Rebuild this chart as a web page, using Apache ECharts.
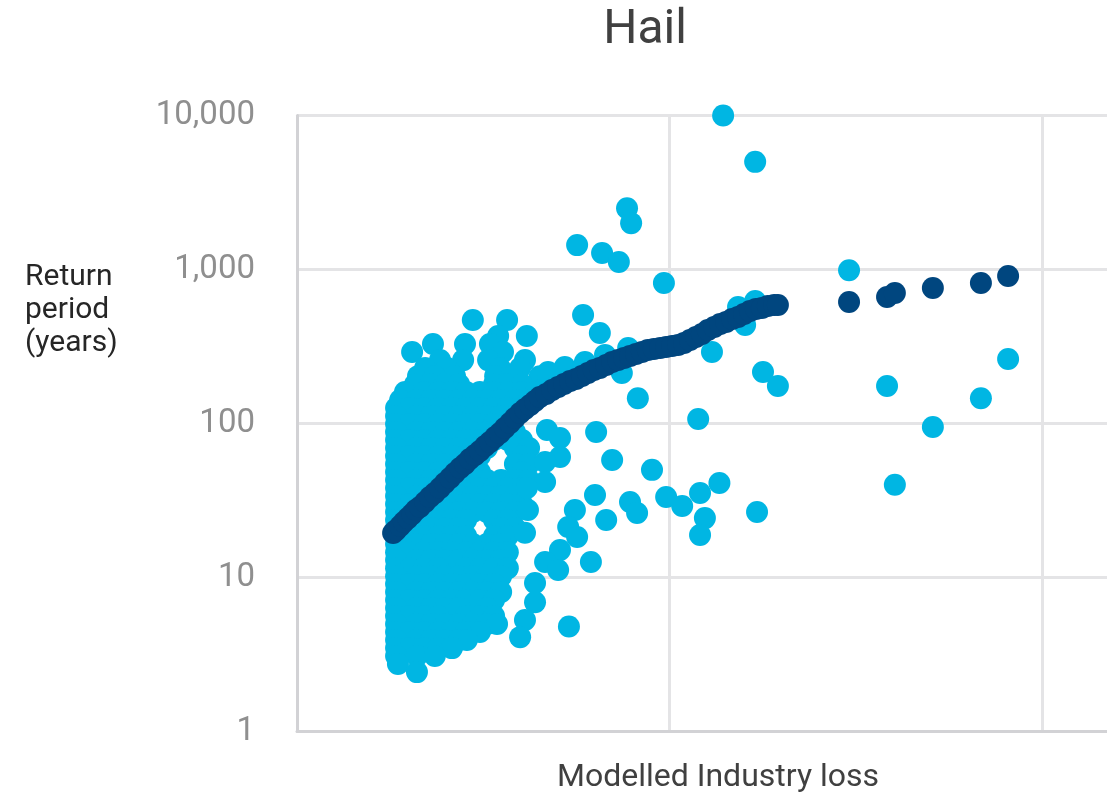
<!DOCTYPE html>
<html>
<head>
<meta charset="utf-8">
<script src="https://cdn.jsdelivr.net/npm/echarts@6/dist/echarts.min.js"></script>
<style>
  html, body { margin: 0; padding: 0; background: #ffffff; }
  #chart { width: 1107px; height: 795px; }
</style>
</head>
<body>
<div id="chart"></div>
<script>
// Return-period axis ticks
const yTickValues = [1, 10, 100, 1000, 10000];
const yTickLabels = ['1', '10', '100', '1,000', '10,000'];

// Modelled curve: [industry loss, return period (years)]
const curveModelled = [
  [25.8, 19.45], [26.6, 20.3], [27.7, 21.6], [28.7, 22.9], [29.8, 24.3], [30.9, 25.8],
  [31.9, 27.4], [33.0, 28.7], [34.4, 30.9], [35.7, 33.3], [37.0, 35.4], [38.4, 38.1],
  [39.7, 41.1], [41.1, 44.3], [42.4, 47.7], [43.8, 51.4], [45.1, 54.6], [46.4, 58.8],
  [47.8, 62.4], [49.1, 66.3], [50.5, 71.4], [51.8, 75.8], [53.2, 81.7], [54.5, 86.7],
  [55.8, 93.4], [57.2, 100.7], [58.5, 108.5], [59.9, 116.9], [61.2, 124.1], [62.6, 131.8],
  [63.9, 139.9], [65.2, 148.5], [66.9, 155.3], [68.5, 164.9], [70.1, 172.5], [71.7, 180.4],
  [73.3, 188.7], [74.9, 194.4], [76.5, 203.3], [78.1, 212.6], [79.7, 222.4], [81.3, 229.1],
  [83.0, 239.7], [84.6, 250.6], [86.2, 258.2], [87.8, 266.0], [89.4, 274.1], [91.0, 282.4],
  [92.6, 291.0], [94.2, 299.8], [95.8, 304.4], [97.5, 308.9], [99.1, 313.6], [100.7, 318.3],
  [102.3, 323.1], [103.9, 332.9], [105.5, 348.2], [107.1, 364.2], [108.7, 380.9], [110.3, 404.3],
  [112.0, 422.9], [113.6, 442.3], [115.2, 455.7], [116.8, 476.6], [118.4, 491.1], [120.0, 513.7],
  [121.6, 537.2], [123.2, 553.5], [124.8, 561.9], [126.4, 578.9], [128.1, 587.6], [129.1, 587.6]
];
const curveTail = [
  [148.2, 615], [158.4, 663], [160.5, 704], [170.7, 758], [183.6, 817], [190.9, 907]
];

// Event losses grouped by return period: [return period, [losses...]]
const eventRows = [
  [470, [47.2, 56.4]],
  [370, [54.0, 61.7]],
  [328, [36.5, 45.1, 51.8]],
  [291, [30.9, 55.3]],
  [258, [38.4, 44.6, 51.3, 61.2]],
  [229, [34.4, 40.3, 54.5, 59.9]],
  [203, [32.5, 37.0, 42.4, 53.2, 57.7, 65.2]],
  [180, [31.7, 36.0, 39.7, 43.5, 52.9, 56.6, 60.4, 67.4]],
  [160, [29.0, 34.1, 37.9, 41.6, 45.4, 49.1, 52.9, 56.6, 60.4, 64.2]],
  [142, [27.7, 32.2, 36.0, 39.7, 43.5, 47.2, 51.0, 54.8, 58.5, 62.3]],
  [126, [26.6, 30.3, 34.1, 37.9, 41.6, 45.4, 49.1, 52.9, 56.6, 60.4]],
  [112, [26.6, 32.2, 36.0, 39.7, 43.5, 47.2, 51.0, 54.8, 58.5]],
  [99.3, [26.6, 30.3, 34.1, 37.9, 41.6, 45.4, 49.1, 52.9, 56.6]],
  [88.1, [26.6, 32.2, 36.0, 39.7, 43.5, 47.2, 51.0, 54.8, 58.5]],
  [78.1, [26.6, 30.3, 34.1, 37.9, 41.6, 45.4, 49.1, 52.9, 56.6, 60.4]],
  [69.3, [26.6, 32.2, 36.0, 39.7, 43.5, 47.2, 51.0, 58.5, 62.3]],
  [61.5, [26.6, 30.3, 34.1, 37.9, 41.6, 45.4, 49.1, 60.4]],
  [54.6, [26.6, 32.2, 36.0, 39.7, 43.5, 47.2, 58.5, 62.3]],
  [48.4, [26.6, 30.3, 34.1, 37.9, 41.6, 45.4, 49.1, 60.4]],
  [43.0, [26.6, 32.2, 36.0, 39.7, 43.5, 47.2, 51.0, 54.8, 58.5, 62.3]],
  [38.1, [26.6, 30.3, 34.1, 37.9, 41.6, 45.4, 49.1, 52.9, 56.6, 60.4]],
  [33.8, [26.6, 32.2, 36.0, 39.7, 43.5, 47.2, 51.0, 54.8, 58.5]],
  [30.0, [26.6, 30.3, 34.1, 37.9, 41.6, 45.4, 49.1, 52.9, 56.6, 60.4]],
  [26.6, [26.6, 32.2, 36.0, 39.7, 43.5, 47.2, 51.0, 54.8, 58.5]],
  [23.6, [26.6, 30.3, 34.1, 37.9, 41.6, 45.4, 52.9, 56.6]],
  [21.0, [26.6, 32.2, 36.0, 39.7, 43.5, 54.8, 58.5]],
  [18.6, [26.6, 30.3, 34.1, 37.9, 41.6, 45.4, 52.9, 56.6]],
  [16.5, [26.6, 32.2, 36.0, 39.7, 43.5, 47.2, 51.0, 54.8]],
  [14.6, [26.6, 30.3, 34.1, 37.9, 41.6, 45.4, 49.1, 52.9, 56.6]],
  [13.0, [26.6, 32.2, 36.0, 39.7, 43.5, 47.2, 51.0, 54.8]],
  [11.5, [26.6, 30.3, 34.1, 37.9, 45.4, 49.1, 52.9, 56.6]],
  [10.2, [26.6, 32.2, 36.0, 39.7, 43.5, 47.2, 51.0, 54.8]],
  [9.07, [26.6, 30.3, 34.1, 37.9, 41.6, 45.4, 49.1, 52.9]],
  [8.05, [26.6, 32.2, 36.0, 39.7, 43.5, 47.2, 51.0, 54.8]],
  [7.14, [26.6, 30.3, 34.1, 37.9, 41.6, 45.4, 49.1, 52.9]],
  [6.34, [26.6, 32.2, 36.0, 39.7, 43.5, 51.0]],
  [5.62, [26.6, 30.3, 34.1, 37.9, 45.4, 49.1, 52.9]],
  [4.99, [26.6, 32.2, 36.0, 39.7, 43.5, 47.2, 51.0, 53.7]],
  [4.43, [26.6, 30.3, 34.1, 37.9, 41.6, 45.4, 49.1]],
  [3.93, [26.6, 32.2, 36.0, 39.7, 43.5, 45.6]],
  [3.48, [26.6, 30.3, 34.1, 37.9, 41.6]],
  [3.09, [26.6, 32.2, 37.0]],
  [2.74, [27.1]],
  [2.43, [32.2]]
];

// Individual events away from the main cluster: [industry loss, return period]
const eventsSpread = [
  [114.4, 10000], [123.0, 5000], [88.6, 2500], [89.7, 2000], [75.2, 1440], [81.9, 1280],
  [86.4, 1120], [98.5, 817], [148.2, 990], [76.8, 506], [81.3, 387], [125.1, 216],
  [129.1, 175], [91.5, 146], [158.4, 175], [190.9, 262], [183.6, 146], [170.7, 95],
  [160.5, 40], [107.7, 107], [80.3, 88], [84.6, 58], [95.3, 50], [80.0, 34.3],
  [83.0, 23.6], [89.4, 30.9], [91.3, 26.2], [99.1, 33.3], [103.4, 29.1], [108.2, 35.4],
  [113.4, 41.1], [109.5, 24.3], [108.2, 18.9], [123.5, 26.6], [74.6, 27.4], [72.8, 21.3],
  [75.2, 18.3], [70.6, 15.1], [66.6, 12.6], [70.1, 11.2], [78.9, 12.6], [63.9, 9.2],
  [63.9, 6.9], [61.2, 5.3], [73.0, 4.8], [59.9, 4.1], [67.1, 90.7], [70.6, 80.5],
  [70.6, 60.6], [66.6, 56.2], [66.6, 41.7], [61.7, 38.1], [62.0, 27.4], [61.2, 19.5],
  [67.4, 216], [71.9, 233], [77.3, 251], [82.7, 279], [88.9, 309], [87.2, 213],
  [111.4, 291], [118.4, 571], [123.0, 624], [120.3, 436]
];

const eventPoints = eventRows
  .flatMap(([rp, losses]) => losses.map(loss => [loss, rp]))
  .concat(eventsSpread);

const LIGHT = '#00B6E3';
const DARK = '#00467F';
const FONT = 'Roboto, "Noto Sans", sans-serif';

const chart = echarts.init(document.getElementById('chart'), null, { renderer: 'canvas' });

chart.setOption({
  animation: false,
  backgroundColor: '#ffffff',
  grid: {
    left: 297, top: 115.5, right: -9.5, bottom: 63.5,
    containLabel: false,
    outerBoundsMode: 'none'
  },
  xAxis: {
    type: 'value',
    min: 0, max: 220, interval: 100,
    axisLine: { show: true, onZero: false, lineStyle: { color: '#d2d2d5', width: 3 } },
    axisTick: { show: false },
    axisLabel: { show: false },
    splitLine: { show: true, lineStyle: { color: '#e4e4e6', width: 3 } }
  },
  yAxis: {
    type: 'log',
    logBase: 10,
    min: 1, max: 10000,
    axisLine: { show: true, onZero: false, lineStyle: { color: '#d2d2d5', width: 3 } },
    axisTick: { show: false },
    axisLabel: {
      margin: 42,
      color: '#8f8f8f',
      fontSize: 33,
      fontFamily: FONT,
      formatter: v => {
        const i = yTickValues.indexOf(Math.round(v));
        return i >= 0 ? yTickLabels[i] : '';
      }
    },
    splitLine: { show: true, lineStyle: { color: '#e4e4e6', width: 3 } }
  },
  series: [
    {
      name: 'Events',
      type: 'scatter',
      data: eventPoints,
      symbol: 'circle',
      symbolSize: 22,
      itemStyle: { color: LIGHT, opacity: 1 },
      z: 2
    },
    {
      name: 'Modelled',
      type: 'scatter',
      data: curveModelled.concat(curveTail),
      symbol: 'circle',
      symbolSize: 22,
      itemStyle: { color: DARK, opacity: 1 },
      z: 3
    }
  ],
  graphic: [
    {
      type: 'text', x: 645, y: 31,
      style: { text: 'Hail', font: '48px ' + FONT, fill: '#404040', align: 'center', verticalAlign: 'middle' }
    },
    {
      type: 'text', x: 25, y: 310,
      style: { text: 'Return\nperiod\n(years)', font: '30px ' + FONT, lineHeight: 33, fill: '#262626', align: 'left', verticalAlign: 'middle' }
    },
    {
      type: 'text', x: 718, y: 778,
      style: { text: 'Modelled Industry loss', font: '32px ' + FONT, fill: '#404040', align: 'center', verticalAlign: 'middle' }
    }
  ]
});
</script>
</body>
</html>
